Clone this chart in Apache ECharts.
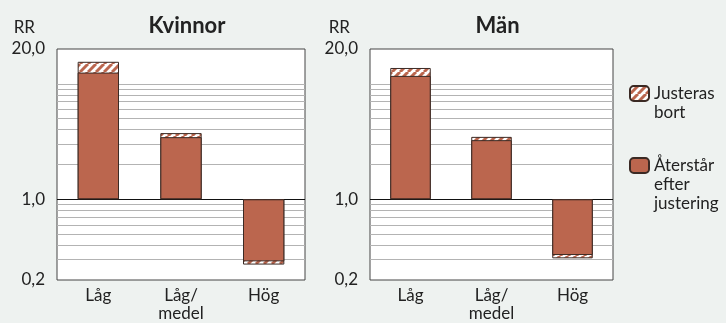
<!DOCTYPE html>
<html><head><meta charset="utf-8">
<script src="https://cdn.jsdelivr.net/npm/echarts@6/dist/echarts.min.js"></script>
<style>html,body{margin:0;padding:0;background:#eef2f0}#c{width:726px;height:323px}</style>
</head><body><div id="c"></div>
<script>
// ---- data ----
const categories = ['Låg', 'Låg/\nmedel', 'Hög'];
const panelTitles = ['Kvinnor', 'Män'];
const kvinnorTotal = [15.5, 3.74, 0.272];     // incl. part adjusted away
const kvinnorRemaining = [12.5, 3.45, 0.29];  // after adjustment
const manTotal = [13.7, 3.47, 0.308];
const manRemaining = [11.7, 3.25, 0.329];
const yTickLabels = [0.2, 1.0, 20.0];
const gridValues = [0.3, 0.4, 0.5, 0.6, 0.7, 0.8, 0.9, 2, 3, 4, 5, 6, 7, 8, 9, 10];
const baseline = 1.0;
const seriesNames = ['Justeras bort', 'Återstår efter justering'];
const legendLines = [['Justeras', 'bort'], ['Återstår', 'efter', 'justering']];

// ---- style ----
const FONT = 'Lato';
const BAR = '#bb664e';
const EDGE = '#3b2a24';

function stripes() {
  const s = 8, c = document.createElement('canvas');
  c.width = s; c.height = s;
  const ctx = c.getContext('2d');
  ctx.fillStyle = '#ffffff'; ctx.fillRect(0, 0, s, s);
  ctx.strokeStyle = BAR; ctx.lineWidth = 3;
  for (const k of [-s, 0, s]) { ctx.beginPath(); ctx.moveTo(k, s); ctx.lineTo(k + s, 0); ctx.stroke(); }
  return c;
}
const pattern = { image: stripes(), repeat: 'repeat' };
const L = v => Math.log10(v);
// prepend blank lines so the first text line sits level with the legend icon
const legendText = lines => new Array(lines.length - 1).fill('').concat(lines).join('\n');

const grids = [
  { left: 57, top: 49, width: 248, height: 232 },
  { left: 370, top: 49, width: 243, height: 232 }
];
const option = {
  animation: false,
  backgroundColor: '#eef2f0',
  textStyle: { fontFamily: FONT },
  title: panelTitles.map((t, i) => ({
    text: t, left: grids[i].left + grids[i].width / 2 + 1, top: 10, textAlign: 'center',
    textStyle: { fontFamily: FONT, fontSize: 22, fontWeight: 'bold', color: '#222' }
  })),
  legend: seriesNames.map((n, i) => ({
    data: [n],
    orient: 'vertical', left: 629, top: i === 0 ? 65 : 118, padding: 0,
    itemWidth: 19, itemHeight: 15, selectedMode: false,
    formatter: () => legendText(legendLines[i]),
    textStyle: { fontFamily: FONT, fontSize: 17, lineHeight: 19, color: '#222', align: 'left' }
  })),
  grid: grids.map(g => Object.assign({ show: true, backgroundColor: '#ffffff', borderColor: '#444', borderWidth: 1 }, g)),
  xAxis: grids.map((g, i) => ({
    type: 'category', gridIndex: i, data: categories,
    axisLine: { show: false }, axisTick: { show: false },
    axisLabel: { fontFamily: FONT, fontSize: 17, lineHeight: 18, color: '#222', margin: 7 }
  })),
  yAxis: grids.map((g, i) => ({
    type: 'value', gridIndex: i, min: L(yTickLabels[0]), max: L(yTickLabels[2]),
    name: 'RR', nameLocation: 'end', nameGap: 13,
    nameTextStyle: { fontFamily: FONT, fontSize: 17, color: '#222', align: 'right', padding: [0, i === 0 ? 22 : 20, 0, 0] },
    axisLine: { show: false },
    axisTick: { show: false, customValues: gridValues.map(L) },
    axisLabel: {
      customValues: yTickLabels.map(L), fontFamily: FONT, fontSize: 17, color: '#222', margin: 12,
      formatter: v => Math.pow(10, v).toFixed(1).replace('.', ',')
    },
    splitLine: { show: true, lineStyle: { color: '#b3b3b3', width: 1 } }
  })),
  series: []
};
const sets = [[kvinnorTotal, kvinnorRemaining], [manTotal, manRemaining]];
sets.forEach(([tot, rem], i) => {
  option.series.push({
    name: seriesNames[0], type: 'bar', xAxisIndex: i, yAxisIndex: i,
    data: tot.map(L), barWidth: '50%', barGap: '-100%',
    itemStyle: { color: pattern, borderColor: EDGE, borderWidth: 1 },
    markLine: {
      silent: true, symbol: 'none', label: { show: false }, z: 1,
      lineStyle: { color: '#111', width: 1, type: 'solid' },
      data: [{ yAxis: L(baseline) }]
    }
  });
  option.series.push({
    name: seriesNames[1], type: 'bar', xAxisIndex: i, yAxisIndex: i,
    data: rem.map(L), barWidth: '50%', barGap: '-100%',
    itemStyle: { color: BAR, borderColor: EDGE, borderWidth: 1 }
  });
});
const chart = echarts.init(document.getElementById('c'), null, { renderer: 'canvas' });
chart.setOption(option);
</script></body></html>
